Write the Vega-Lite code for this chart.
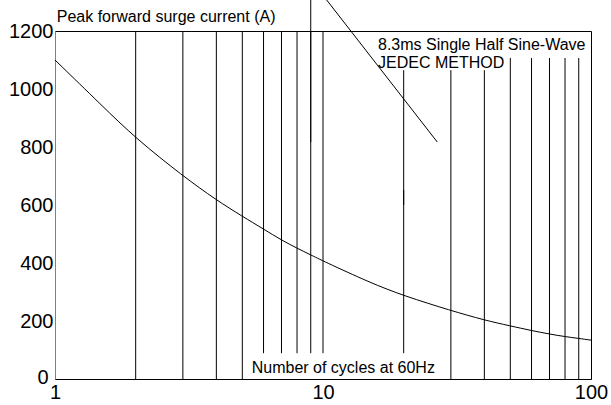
{
  "$schema": "https://vega.github.io/schema/vega-lite/v6.json",
  "width": 536,
  "height": 348,
  "autosize": {"type": "none"},
  "padding": {"left": 55, "top": 31, "right": 20, "bottom": 26},
  "background": "#ffffff",
  "config": {
    "view": {"stroke": "#000000", "strokeWidth": 1},
    "font": "Liberation Sans",
    "axis": {"labelFont": "Liberation Sans", "labelFontSize": 20, "labelColor": "#000000", "ticks": false, "grid": false, "title": null}
  },
  "datasets": {
    "curve": [
      {"x": 1, "y": 1100}, {"x": 1.5, "y": 942}, {"x": 2, "y": 830}, {"x": 3, "y": 700},
      {"x": 4, "y": 617}, {"x": 5, "y": 561}, {"x": 6, "y": 517}, {"x": 7, "y": 479},
      {"x": 8, "y": 451}, {"x": 9, "y": 428}, {"x": 10, "y": 407}, {"x": 15, "y": 332},
      {"x": 20, "y": 287}, {"x": 30, "y": 236}, {"x": 40, "y": 203}, {"x": 50, "y": 183},
      {"x": 60, "y": 167}, {"x": 70, "y": 155}, {"x": 80, "y": 146}, {"x": 90, "y": 140},
      {"x": 100, "y": 134}
    ],
    "grid": [
      {"x": 2, "y": 0, "y2": 1200}, {"x": 3, "y": 0, "y2": 1200}, {"x": 4, "y": 0, "y2": 1200},
      {"x": 5, "y": 0, "y2": 1200}, {"x": 6, "y": 89, "y2": 1200}, {"x": 7, "y": 89, "y2": 1200},
      {"x": 8, "y": 89, "y2": 1200}, {"x": 9, "y": 89, "y2": 1200}, {"x": 10, "y": 89, "y2": 1200},
      {"x": 20, "y": 89, "y2": 1065}, {"x": 30, "y": 0, "y2": 1065}, {"x": 40, "y": 0, "y2": 1065},
      {"x": 50, "y": 0, "y2": 1107}, {"x": 60, "y": 0, "y2": 1107}, {"x": 70, "y": 0, "y2": 1107},
      {"x": 80, "y": 0, "y2": 1107}, {"x": 90, "y": 0, "y2": 1107},
      {"x": 9, "y": 817, "y2": 1307}, {"x": 20, "y": 600, "y2": 652}
    ],
    "arrow": [
      {"x": 10.32, "y": 1307}, {"x": 26.7, "y": 817}
    ],
    "labels": [
      {"x": 1.015, "y": 1232, "text": "Peak forward surge current (A)"},
      {"x": 16.04, "y": 1134, "text": "8.3ms Single Half Sine-Wave"},
      {"x": 16.04, "y": 1072, "text": "JEDEC METHOD"},
      {"x": 5.42, "y": 21, "text": "Number of cycles at 60Hz"}
    ]
  },
  "encoding": {
    "x": {
      "field": "x", "type": "quantitative",
      "scale": {"type": "log", "domain": [1, 100], "nice": false},
      "axis": {"values": [1, 10, 100], "format": "d", "labelFlush": false, "labelPadding": 3, "domain": true, "domainColor": "#000000", "labelOverlap": false}
    },
    "y": {
      "field": "y", "type": "quantitative",
      "scale": {"domain": [0, 1200], "nice": false, "zero": false},
      "axis": {"values": [0, 200, 400, 600, 800, 1000, 1200], "format": "d", "labelPadding": {"condition": {"test": "datum.value === 0", "value": 7}, "value": 2}, "labelOffset": {"condition": {"test": "datum.value === 0", "value": -2}, "value": 0}, "domain": true, "domainColor": "#808080", "labelOverlap": false}
    }
  },
  "layer": [
    {
      "data": {"name": "grid"},
      "mark": {"type": "rule", "color": "#000000", "strokeWidth": 1, "clip": false},
      "encoding": {"y2": {"field": "y2"}}
    },
    {
      "data": {"name": "curve"},
      "mark": {"type": "line", "color": "#000000", "strokeWidth": 1, "interpolate": "basis"}
    },
    {
      "data": {"name": "arrow"},
      "mark": {"type": "line", "color": "#000000", "strokeWidth": 1, "clip": false}
    },
    {
      "data": {"name": "labels"},
      "mark": {"type": "text", "align": "left", "baseline": "alphabetic", "fontSize": 16, "font": "Liberation Sans", "color": "#000000", "clip": false},
      "encoding": {"text": {"field": "text"}}
    }
  ]
}
